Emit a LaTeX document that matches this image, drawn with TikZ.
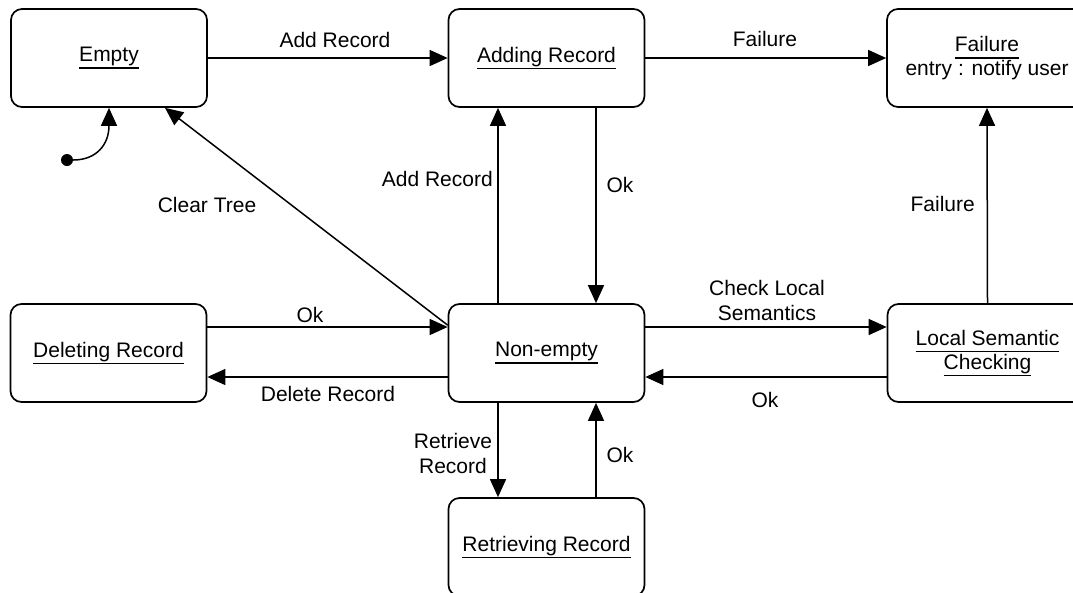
\documentclass[tikz,border=0pt]{standalone}
\usepackage{fontspec}
\setmainfont{Liberation Sans}
\usetikzlibrary{arrows.meta}

% underline drawn as a rule a few points below the baseline
\newcommand\statename[1]{\begingroup\setbox0\hbox{#1}\leavevmode\rlap{\rule[-7pt]{\wd0}{1.6pt}}\box0\endgroup}

\tikzset{
  statebox/.style={draw, line width=1.7pt, rounded corners=11pt,
    minimum width=196pt, minimum height=98pt, inner sep=0pt,
    align=center, font=\fontsize{21}{24}\selectfont},
  tr/.style={line width=1.5pt, -{Triangle[length=18pt,width=16pt]}},
  lbl/.style={inner sep=0pt, align=center, font=\fontsize{21}{25}\selectfont},
}

\begin{document}
\begin{tikzpicture}[x=1pt, y=-1pt]
  \useasboundingbox (0,0) rectangle (1073,592);
  \clip (0,0) rectangle (1073,592);

  % states
  \node[statebox] (empty)      at (109,58)    {\statename{Empty}};
  \node[statebox] (adding)     at (546.5,58)  {\statename{Adding Record}};
  \node[statebox, minimum width=200pt, font=\fontsize{21}{22}\selectfont]
                  (failure)    at (987,58)    {\statename{Failure}\\entry : notify user};
  \node[statebox] (deleting)   at (108.5,353) {\statename{Deleting Record}};
  \node[statebox] (nonempty)   at (546.5,353) {\statename{Non-empty}};
  \node[statebox, minimum width=200pt]
                  (local)      at (987.5,353) {\statename{Local Semantic}\\\statename{Checking}};
  \node[statebox] (retrieving) at (546.5,547) {\statename{Retrieving Record}};

  % initial pseudo-state
  \node[circle, fill, inner sep=0pt, minimum size=12pt] (init) at (67,160) {};
  \draw[tr] (init.east) .. controls (96,160) and (109,145) .. (empty.south);

  % transitions
  \draw[tr] (empty.east) -- (adding.west);
  \draw[tr] (adding.east) -- (failure.west);
  \draw[tr] ([xshift=-48.5pt]nonempty.north) -- ([xshift=-48.5pt]adding.south);
  \draw[tr] ([xshift=49.5pt]adding.south) -- ([xshift=49.5pt]nonempty.north);
  \draw[tr] (local.north) -- (failure.south);
  \draw[tr] ([yshift=26pt]nonempty.east) -- ([yshift=26pt]local.west);
  \draw[tr] ([yshift=-24pt]local.west) -- ([yshift=-24pt]nonempty.east);
  \draw[tr] ([yshift=26pt]deleting.east) -- ([yshift=26pt]nonempty.west);
  \draw[tr] ([yshift=-24pt]nonempty.west) -- ([yshift=-24pt]deleting.east);
  \draw[tr] ([xshift=-48.5pt]nonempty.south) -- ([xshift=-48.5pt]retrieving.north);
  \draw[tr] ([xshift=49.5pt]retrieving.north) -- ([xshift=49.5pt]nonempty.south);
  \draw[tr] ([yshift=-22pt]nonempty.north west) -- ([xshift=56pt]empty.south);

  % transition labels
  \node[lbl] (l1)  at (335,40)  {Add Record};
  \node[lbl] (l2)  at (765,39)  {Failure};
  \node[lbl, anchor=east] (l3) at (493,179) {Add Record};
  \node[lbl] (l4)  at (620,185) {Ok};
  \node[lbl, anchor=east] (l5) at (975,204) {Failure};
  \node[lbl] (l6)  at (207,205) {Clear Tree};
  \node[lbl] (l7)  at (310,315) {Ok};
  \node[lbl] (l8)  at (328,394) {Delete Record};
  \node[lbl] (l9)  at (767,300) {Check Local\\Semantics};
  \node[lbl] (l10) at (765,400) {Ok};
  \node[lbl] (l11) at (453,453) {Retrieve\\Record};
  \node[lbl] (l12) at (620,455) {Ok};
\end{tikzpicture}
\end{document}
